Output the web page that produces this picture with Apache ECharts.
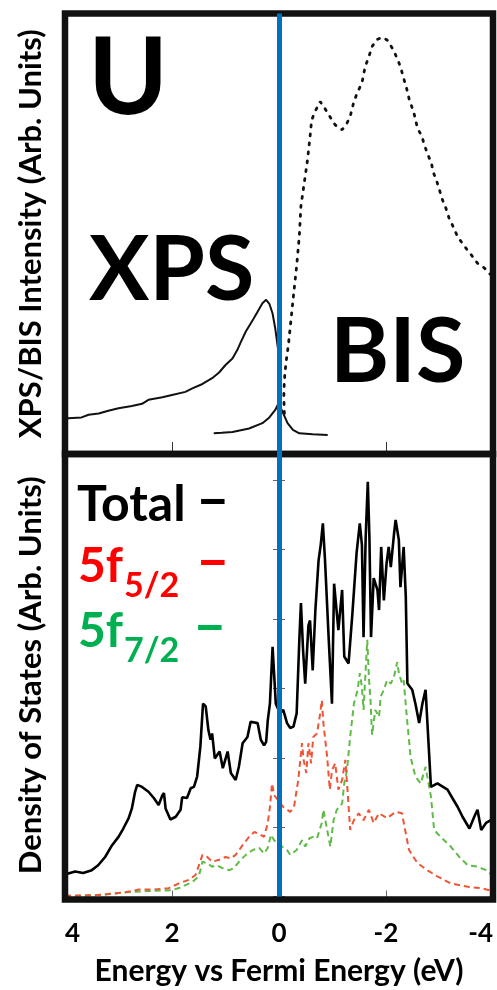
<!DOCTYPE html>
<html><head><meta charset="utf-8">
<script src="https://cdn.jsdelivr.net/npm/echarts@6/dist/echarts.min.js"></script>
<style>html,body{margin:0;padding:0;background:#fff}#c{width:497px;height:990px}</style>
</head><body><div id="c"></div>
<script>
// ---- Top panel: XPS / BIS spectra (arb. units, 0-100) ----
const xpsEnergy = [4.00, 3.94, 3.69, 3.56, 3.37, 3.19, 3.00, 2.75, 2.56, 2.44, 2.18, 2.00, 1.75, 1.62, 1.43, 1.25, 1.12, 1.00, 0.87, 0.78, 0.71, 0.62, 0.49, 0.40, 0.31, 0.24, 0.18, 0.12, 0.07, 0.02];
const xpsIntensity = [8.0, 8.1, 8.3, 8.9, 9.2, 9.8, 10.4, 10.9, 11.4, 12.3, 12.9, 13.4, 14.1, 14.9, 15.9, 17.2, 18.5, 20.2, 21.7, 23.6, 25.5, 27.8, 30.4, 32.3, 34.2, 35.0, 34.1, 31.9, 28.5, 24.0];

const edgeEnergy = [1.22, 1.07, 0.87, 0.56, 0.31, 0.18, 0.07, 0.01, -0.05, -0.16, -0.26, -0.38, -0.63, -0.91];
const edgeIntensity = [4.7, 4.8, 5.0, 5.8, 7.0, 8.3, 10.0, 11.5, 10.0, 7.0, 5.5, 4.7, 4.5, 4.3];

const bisEnergy = [-0.10, -0.09, -0.10, -0.13, -0.175, -0.22, -0.27, -0.33, -0.38, -0.41, -0.475, -0.53, -0.58, -0.61, -0.68, -0.77, -0.80, -0.845, -0.93, -1.05, -1.18, -1.27, -1.33, -1.40, -1.47, -1.55, -1.61, -1.68, -1.74, -1.83, -1.93, -2.02, -2.12, -2.21, -2.27, -2.33, -2.385, -2.43, -2.52, -2.59, -2.66, -2.74, -2.77, -2.85, -2.88, -2.96, -3.055, -3.12, -3.18, -3.24, -3.34, -3.43, -3.52, -3.62, -3.71, -3.84, -3.93, -4.00];
const bisIntensity = [9.2, 13.0, 16.8, 20.7, 24.7, 30.0, 35.9, 42.7, 49.5, 56.3, 61.8, 66.5, 72.0, 75.8, 77.9, 80.0, 80.1, 78.7, 77.0, 74.7, 73.6, 75.1, 76.6, 80.0, 82.2, 84.2, 87.9, 90.2, 92.5, 94.1, 94.6, 94.0, 92.1, 89.8, 87.9, 85.3, 83.0, 80.7, 77.5, 73.9, 72.4, 69.4, 68.3, 66.0, 64.1, 61.5, 57.7, 55.8, 53.5, 52.0, 49.3, 47.8, 46.3, 44.8, 43.3, 42.2, 41.0, 40.3];

// ---- Bottom panel: density of states ----
const dosEnergy = [4.00, 3.94, 3.81, 3.66, 3.50, 3.38, 3.25, 3.12, 3.00, 2.91, 2.81, 2.75, 2.69, 2.65, 2.56, 2.44, 2.34, 2.25, 2.18, 2.15, 2.12, 2.03, 1.93, 1.84, 1.81, 1.72, 1.65, 1.59, 1.53, 1.47, 1.42, 1.37, 1.32, 1.28, 1.25, 1.20, 1.11, 1.05, 0.96, 0.90, 0.81, 0.75, 0.68, 0.59, 0.53, 0.40, 0.34, 0.28, 0.24, 0.21, 0.17, 0.12, 0.06, -0.02, -0.08, -0.15, -0.21, -0.27, -0.33, -0.38, -0.41, -0.45, -0.49, -0.55, -0.58, -0.63, -0.68, -0.74, -0.78, -0.82, -0.86, -0.93, -0.99, -1.03, -1.11, -1.18, -1.22, -1.30, -1.37, -1.45, -1.51, -1.55, -1.58, -1.62, -1.66, -1.69, -1.72, -1.77, -1.84, -1.87, -1.91, -1.96, -2.01, -2.05, -2.09, -2.15, -2.18, -2.21, -2.24, -2.27, -2.33, -2.37, -2.40, -2.49, -2.55, -2.62, -2.68, -2.74, -2.84, -2.96, -3.15, -3.24, -3.34, -3.43, -3.56, -3.65, -3.71, -3.78, -3.87, -3.96, -4.00];
const dosTotal = [0.32, 0.33, 0.36, 0.34, 0.38, 0.45, 0.57, 0.74, 0.86, 0.98, 1.13, 1.27, 1.51, 1.61, 1.58, 1.51, 1.42, 1.32, 1.46, 1.49, 1.27, 1.11, 1.15, 1.25, 1.43, 1.42, 1.56, 1.58, 1.73, 2.16, 2.78, 2.74, 2.40, 2.26, 2.35, 1.99, 2.09, 1.85, 2.09, 1.78, 1.68, 1.87, 2.21, 2.30, 2.52, 2.50, 2.26, 2.18, 2.23, 2.54, 2.78, 3.60, 2.78, 2.64, 2.69, 2.50, 2.43, 2.45, 2.64, 3.70, 4.23, 3.55, 3.07, 3.91, 3.98, 3.26, 4.13, 4.85, 5.07, 5.38, 4.85, 3.70, 2.78, 4.51, 3.84, 4.42, 3.46, 3.36, 4.06, 4.95, 5.38, 5.07, 3.74, 5.18, 5.98, 5.18, 3.74, 4.59, 4.42, 4.13, 5.04, 4.27, 4.80, 5.04, 4.75, 5.23, 5.43, 5.45, 5.14, 4.46, 5.04, 4.32, 3.07, 2.98, 2.78, 2.50, 2.78, 2.98, 1.58, 1.63, 1.54, 1.42, 1.29, 1.15, 0.98, 1.15, 1.25, 0.96, 1.06, 1.10, 1.10];

const f52Energy = [4.00, 3.94, 3.38, 2.87, 2.62, 2.37, 2.06, 1.87, 1.69, 1.56, 1.43, 1.34, 1.25, 1.12, 1.00, 0.90, 0.81, 0.68, 0.56, 0.46, 0.37, 0.28, 0.21, 0.17, 0.13, 0.09, 0.02, -0.08, -0.21, -0.28, -0.36, -0.43, -0.46, -0.51, -0.55, -0.60, -0.64, -0.71, -0.77, -0.80, -0.83, -0.90, -0.95, -0.99, -1.05, -1.11, -1.18, -1.24, -1.28, -1.33, -1.40, -1.49, -1.58, -1.68, -1.77, -1.87, -2.02, -2.18, -2.30, -2.33, -2.43, -2.59, -2.77, -2.96, -3.21, -3.53, -3.78, -3.93, -4.00];
const f52Dos = [0.00, 0.01, 0.02, 0.06, 0.10, 0.10, 0.12, 0.19, 0.24, 0.31, 0.60, 0.57, 0.50, 0.53, 0.57, 0.55, 0.60, 0.74, 0.86, 0.93, 0.90, 0.86, 1.06, 1.29, 1.63, 1.46, 1.39, 1.29, 1.22, 1.29, 1.68, 2.21, 1.97, 1.78, 2.21, 1.92, 2.30, 2.35, 2.64, 2.83, 2.50, 2.01, 1.54, 1.82, 1.92, 1.54, 1.68, 1.97, 1.54, 0.96, 1.10, 1.20, 1.10, 1.25, 1.06, 1.20, 1.13, 1.22, 1.20, 1.07, 0.67, 0.48, 0.38, 0.29, 0.19, 0.14, 0.12, 0.09, 0.08];

const f72Energy = [4.00, 3.94, 3.38, 2.87, 2.44, 2.00, 1.81, 1.62, 1.50, 1.43, 1.34, 1.25, 1.16, 1.06, 0.93, 0.84, 0.75, 0.62, 0.49, 0.37, 0.28, 0.21, 0.15, 0.09, -0.02, -0.15, -0.21, -0.33, -0.43, -0.49, -0.57, -0.64, -0.71, -0.80, -0.83, -0.90, -0.96, -1.02, -1.08, -1.18, -1.22, -1.27, -1.33, -1.40, -1.47, -1.51, -1.55, -1.58, -1.65, -1.68, -1.71, -1.74, -1.80, -1.87, -1.90, -1.96, -2.02, -2.09, -2.15, -2.21, -2.24, -2.30, -2.33, -2.40, -2.46, -2.55, -2.65, -2.74, -2.84, -2.90, -3.02, -3.21, -3.37, -3.53, -3.71, -3.87, -3.95, -4.00];
const f72Dos = [0.00, 0.01, 0.02, 0.06, 0.08, 0.09, 0.14, 0.21, 0.29, 0.50, 0.48, 0.43, 0.45, 0.41, 0.38, 0.41, 0.50, 0.60, 0.67, 0.70, 0.62, 0.70, 0.89, 0.81, 0.74, 0.67, 0.60, 0.67, 0.81, 0.72, 0.84, 0.86, 0.84, 1.06, 1.25, 0.96, 0.72, 1.10, 1.25, 1.34, 1.63, 1.82, 2.30, 2.78, 2.98, 3.22, 3.02, 2.69, 3.70, 3.17, 2.83, 2.33, 2.69, 2.59, 2.88, 2.98, 3.12, 3.07, 3.17, 3.38, 3.22, 3.07, 3.12, 2.50, 2.01, 1.73, 1.63, 1.87, 1.44, 0.96, 0.86, 0.72, 0.57, 0.45, 0.43, 0.38, 0.33, 0.32];

const xTickLabels = {'4': '4', '2': '2', '0': '0', '-2': '-2', '-4': '-4'};
const fermiLevel = 0;

const zip = (xs, ys) => xs.map((x, i) => [x, ys[i]]);
const FONT = 'Lato';
const chart = echarts.init(document.getElementById('c'), null, {renderer: 'canvas'});

const blueMark = {
  silent: true, symbol: ['none', 'none'], label: {show: false},
  lineStyle: {color: '#0070c0', width: 5, type: 'solid'},
  emphasis: {disabled: true},
  data: [{xAxis: fermiLevel}]
};

const xBase = {
  type: 'value', min: -4, max: 4, interval: 2, inverse: true,
  axisLine: {show: false}, splitLine: {show: false}
};
const nameStyle = {color: '#000', fontFamily: FONT, fontWeight: 'bold', fontSize: 31};

chart.setOption({
  animation: false,
  backgroundColor: '#fff',
  grid: [
    {left: 65, right: 4, top: 13.5, height: 440.5, containLabel: false, outerBoundsMode: 'none'},
    {left: 65, right: 4, top: 454, height: 442.5, containLabel: false, outerBoundsMode: 'none'}
  ],
  xAxis: [
    Object.assign({}, xBase, {gridIndex: 0, position: 'bottom',
      axisTick: {show: true, inside: true, length: 12, lineStyle: {color: '#333', width: 1}},
      axisLabel: {show: false}}),
    Object.assign({}, xBase, {gridIndex: 1, position: 'bottom',
      axisTick: {show: true, inside: true, length: 6, lineStyle: {color: '#666', width: 1}},
      axisLabel: {show: true, margin: 24, color: '#000', fontFamily: FONT, fontWeight: 'bold', fontSize: 26,
        alignMinLabel: 'right', alignMaxLabel: 'left',
        formatter: v => xTickLabels[String(v)] !== undefined ? xTickLabels[String(v)] : ''},
      name: 'Energy vs Fermi Energy (eV)', nameLocation: 'middle', nameGap: 60,
      nameTextStyle: Object.assign({}, nameStyle, {fontSize: 30})}),
    Object.assign({}, xBase, {gridIndex: 1, position: 'top',
      axisTick: {show: true, inside: true, length: 5, lineStyle: {color: '#666', width: 1}},
      axisLabel: {show: false}})
  ],
  yAxis: [
    {gridIndex: 0, type: 'value', min: 0, max: 100, axisLine: {show: false}, axisTick: {show: false},
      axisLabel: {show: false}, splitLine: {show: false},
      name: 'XPS/BIS Intensity (Arb. Units)', nameLocation: 'middle', nameGap: 19, nameTextStyle: nameStyle},
    {gridIndex: 1, type: 'value', min: 0, max: 6.38, interval: 1, axisLine: {show: false},
      axisTick: {show: true, inside: true, length: 6, lineStyle: {color: '#666', width: 1}},
      axisLabel: {show: false}, splitLine: {show: false},
      name: 'Density of States (Arb. Units)', nameLocation: 'middle', nameGap: 19, nameTextStyle: nameStyle},
    {gridIndex: 1, type: 'value', min: 0, max: 6.38, interval: 1, position: 'right', axisLine: {show: false},
      axisTick: {show: true, inside: true, length: 6, lineStyle: {color: '#666', width: 1}},
      axisLabel: {show: false}, splitLine: {show: false}}
  ],
  series: [
    {name: 'XPS', type: 'line', xAxisIndex: 0, yAxisIndex: 0, data: zip(xpsEnergy, xpsIntensity),
      showSymbol: false, lineStyle: {color: '#111', width: 2}, z: 2},
    {name: 'Edge', type: 'line', xAxisIndex: 0, yAxisIndex: 0, data: zip(edgeEnergy, edgeIntensity),
      showSymbol: false, lineStyle: {color: '#111', width: 2}, z: 2},
    {name: 'BIS', type: 'line', xAxisIndex: 0, yAxisIndex: 0, data: zip(bisEnergy, bisIntensity),
      showSymbol: false, lineStyle: {color: '#111', width: 2.8, type: [2, 7], cap: 'round'}, z: 2},
    {name: 'Fermi0', type: 'line', xAxisIndex: 0, yAxisIndex: 0, data: [], z: 10, markLine: blueMark},
    {name: '5f7/2', type: 'line', xAxisIndex: 1, yAxisIndex: 1, data: zip(f72Energy, f72Dos),
      showSymbol: false, lineStyle: {color: '#5fbb45', width: 2, type: [6, 4]}, z: 2},
    {name: '5f5/2', type: 'line', xAxisIndex: 1, yAxisIndex: 1, data: zip(f52Energy, f52Dos),
      showSymbol: false, lineStyle: {color: '#ee5436', width: 2, type: [6, 4]}, z: 2},
    {name: 'Total', type: 'line', xAxisIndex: 1, yAxisIndex: 1, data: zip(dosEnergy, dosTotal),
      showSymbol: false, lineStyle: {color: '#000', width: 2.6}, z: 2},
    {name: 'Fermi1', type: 'line', xAxisIndex: 1, yAxisIndex: 1, data: [], z: 10, markLine: blueMark}
  ],
  graphic: [
    {type: 'rect', z: 5, shape: {x: 65, y: 13.5, width: 428, height: 440.5}, style: {fill: 'none', stroke: '#111', lineWidth: 6.5}},
    {type: 'rect', z: 5, shape: {x: 65, y: 454, width: 428, height: 445.5}, style: {fill: 'none', stroke: '#111', lineWidth: 6.5}},
    {type: 'text', z: 6, x: 88, y: 79, style: {text: 'U', font: 'bold 108px Lato', fill: '#000', verticalAlign: 'middle'}},
    {type: 'text', z: 6, x: 89, y: 271, style: {text: 'XPS', font: 'bold 90px Lato', fill: '#000', verticalAlign: 'middle'}},
    {type: 'text', z: 6, x: 330, y: 353, style: {text: 'BIS', font: 'bold 90px Lato', fill: '#000', verticalAlign: 'middle'}},
    {type: 'text', z: 6, x: 77, y: 505, style: {text: 'Total', font: 'bold 50px Lato', fill: '#000', verticalAlign: 'middle'}},
    {type: 'text', z: 6, x: 196, y: 500, style: {text: '–', font: 'bold 58px Lato', fill: '#000', verticalAlign: 'middle'}},
    {type: 'text', z: 6, x: 78, y: 567, style: {text: '5f', font: 'bold 48px Lato', fill: '#ff0000', verticalAlign: 'middle'}},
    {type: 'text', z: 6, x: 124, y: 586, style: {text: '5/2', font: 'bold 34px Lato', fill: '#ff0000', verticalAlign: 'middle'}},
    {type: 'text', z: 6, x: 196, y: 561, style: {text: '–', font: 'bold 58px Lato', fill: '#ff0000', verticalAlign: 'middle'}},
    {type: 'text', z: 6, x: 78, y: 632, style: {text: '5f', font: 'bold 48px Lato', fill: '#00b050', verticalAlign: 'middle'}},
    {type: 'text', z: 6, x: 124, y: 651, style: {text: '7/2', font: 'bold 34px Lato', fill: '#00b050', verticalAlign: 'middle'}},
    {type: 'text', z: 6, x: 193, y: 626, style: {text: '–', font: 'bold 58px Lato', fill: '#00b050', verticalAlign: 'middle'}}
  ]
});
</script>
</body></html>
